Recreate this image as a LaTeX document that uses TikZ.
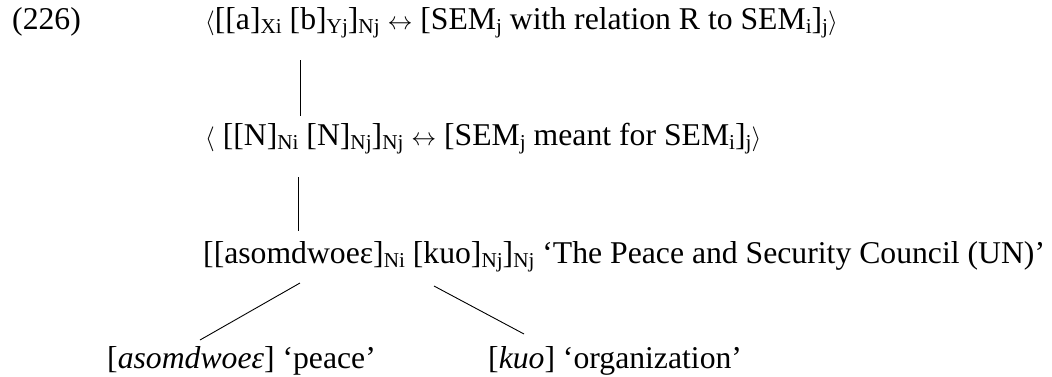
\documentclass[tikz,border=0pt]{standalone}
\usepackage{fontspec}
\setmainfont{Liberation Serif}
\newcommand\lowsub[1]{\raisebox{-0.33ex}{\fontsize{21.2}{21.2}\selectfont #1}}
\newcommand\lrarr{$\leftrightarrow$}
\begin{document}
\begin{tikzpicture}[x=1pt,y=-1pt,
  txt/.style={anchor=base west, inner sep=0pt, font=\fontsize{31.7}{36}\selectfont},
  link/.style={line width=0.9pt}]
\useasboundingbox (0,0) rectangle (1052,376);
\node[txt] (num) at (12,29) {(226)};
\node[txt] (r1) at (205,29) {$\langle$[[a]\lowsub{Xi} [b]\lowsub{Yj}]\lowsub{Nj} \lrarr{} [SEM\lowsub{j} with relation R to SEM\lowsub{i}]\lowsub{j}$\rangle$};
\node[txt] (r2) at (205,145) {$\langle$ [[N]\lowsub{Ni} [N]\lowsub{Nj}]\lowsub{Nj} \lrarr{} [SEM\lowsub{j} meant for SEM\lowsub{i}]\lowsub{j}$\rangle$};
\node[txt] (r3) at (203,263) {[[asomdwoeɛ]\lowsub{Ni} [kuo]\lowsub{Nj}]\lowsub{Nj} ‘The Peace and Security Council (UN)’};
\node[txt] (l4) at (107,368) {[\textit{asomdwoeɛ}] ‘peace’};
\node[txt] (k4) at (488,368) {[\textit{kuo}] ‘organization’};
\coordinate (v1a) at (300,60);
\coordinate (v1b) at (300,116);
\coordinate (v2a) at (298,177);
\coordinate (v2b) at (298,231);
\coordinate (da) at (300,283);
\coordinate (db) at (200,340);
\coordinate (ea) at (434,286);
\coordinate (eb) at (524,334);
\draw[link] (v1a) -- (v1b);
\draw[link] (v2a) -- (v2b);
\draw[link] (da) -- (db);
\draw[link] (ea) -- (eb);
\end{tikzpicture}
\end{document}
